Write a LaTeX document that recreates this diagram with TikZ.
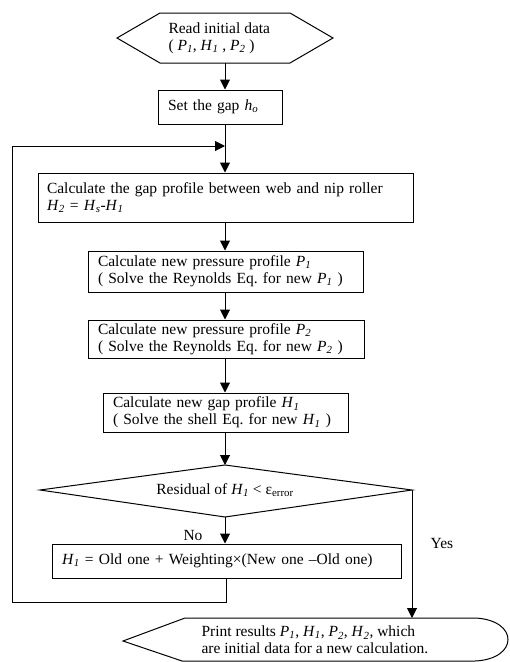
\documentclass[tikz,border=0pt]{standalone}
\usepackage{fontspec}
\setmainfont{Liberation Serif}
\usetikzlibrary{arrows.meta}
\newcommand\vi[2]{\textit{#1}\textsubscript{\textit{#2}}}
\begin{document}
\begin{tikzpicture}[x=1pt,y=-1pt, line width=1pt,
  every node/.style={font=\fontsize{15.5}{17}\selectfont},
  box/.style={draw, rectangle, inner xsep=10pt, inner ysep=2pt, align=left},
  lbl/.style={inner sep=0pt},
  arr/.style={-{Triangle[width=10pt,length=10pt]}}]
\useasboundingbox (0,0) rectangle (510,662);

% start hexagon
\draw (117,38) -- (160,13) -- (290,13) -- (333,38) -- (290,63) -- (160,63) -- cycle;
\node[lbl, align=left, anchor=west] (read) at (168,38) {Read initial data\\( \vi{P}{1}, \vi{H}{1} , \vi{P}{2} )};
\coordinate (readS) at (225,63);

% boxes
\node[box, text width=104pt, minimum height=34pt] (gap) at (220,107) {Set the gap \vi{h}{o}};
\node[box, text width=357pt, minimum height=49pt, inner xsep=9pt] (calc) at (225.5,197.5) {Calculate the gap profile between web and nip roller\\\vi{H}{2} = \vi{H}{s}-\vi{H}{1}};
\node[box, text width=255pt, minimum height=41pt] (pa) at (225.5,271.5) {Calculate new pressure profile \vi{P}{1}\\( Solve the Reynolds Eq.\ for new \vi{P}{1} )};
\node[box, text width=256pt, minimum height=38pt] (pb) at (226,339) {Calculate new pressure profile \vi{P}{2}\\( Solve the Reynolds Eq.\ for new \vi{P}{2} )};
\node[box, text width=225pt, minimum height=39pt] (hg) at (225.5,412.5) {Calculate new gap profile \vi{H}{1}\\( Solve the shell Eq.\ for new \vi{H}{1} )};

% decision
\draw (225,465) -- (412,490) -- (225,517) -- (40,490) -- cycle;
\node[lbl] (res) at (225,490) {Residual of \vi{H}{1} < ε\textsubscript{error}};
\coordinate (dT) at (225,465);
\coordinate (dB) at (225,517);
\coordinate (dR) at (412,490);

\node[box, text width=329pt, minimum height=34pt] (upd) at (226.5,561) {\vi{H}{1} = Old one + Weighting×(New one –Old one)};
\node[lbl] (no) at (193,535) {No};
\node[lbl] (yes) at (442,543) {Yes};

% print shape
\draw (475,618) -- (185,618) -- (123,641) -- (182,661) -- (475,661) .. controls (519,659) and (519,620) .. (475,618);
\node[lbl, align=left, anchor=west] (prt) at (201,640) {Print results \vi{P}{1}, \vi{H}{1}, \vi{P}{2}, \vi{H}{2}, which\\are initial data for a new calculation.};
\coordinate (prtT) at (412,618);

% loop coordinates
\coordinate (j) at (225,146);
\coordinate (lb) at (12,602);

% connectors
\draw[arr] (readS) -- (readS |- gap.north);
\draw[arr] (readS |- gap.south) -- (readS |- calc.north);
\draw[arr] (readS |- calc.south) -- (readS |- pa.north);
\draw[arr] (readS |- pa.south) -- (readS |- pb.north);
\draw[arr] (readS |- pb.south) -- (readS |- hg.north);
\draw[arr] (readS |- hg.south) -- (dT);
\draw[arr] (dB) -- (dB |- upd.north);
\draw[arr] (upd.south) |- (lb) |- (j);
\draw[arr] (dR) -- (prtT);
\end{tikzpicture}
\end{document}
